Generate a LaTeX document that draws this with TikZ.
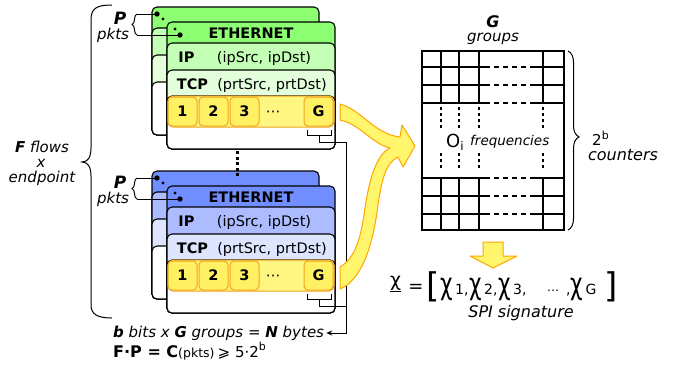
\documentclass[tikz,border=0pt]{standalone}
\usepackage{fontspec}
\setmainfont{DejaVu Sans}
\usetikzlibrary{decorations.pathreplacing,arrows.meta,calc}
\newcommand\myfs[1]{\fontsize{#1}{#1}\selectfont}
\newcommand\mysub[1]{\hspace{2.5pt}{\myfs{14}#1}}
\newcommand\mychi{\scalebox{0.72}[1]{\myfs{30}χ}}
\definecolor{gA}{RGB}{140,255,115}
\definecolor{gB}{RGB}{196,255,182}
\definecolor{gC}{RGB}{228,255,220}
\definecolor{bA}{RGB}{112,142,255}
\definecolor{bB}{RGB}{172,188,255}
\definecolor{bC}{RGB}{221,229,255}
\definecolor{yelC}{RGB}{255,240,100}
\definecolor{yelR}{RGB}{255,246,130}
\definecolor{orangeB}{RGB}{240,165,30}
\definecolor{arrF}{RGB}{255,246,110}
\definecolor{arrB}{RGB}{255,165,0}
\tikzset{
  cl/.style={draw=black, line width=1.1pt, rounded corners=5pt},
  cellst/.style={draw=orangeB, line width=1pt, fill=yelC, rounded corners=4pt,
    minimum width=29pt, minimum height=29pt, inner sep=0pt, font=\myfs{14.5}\bfseries},
  rowst/.style={draw=orangeB, line width=1pt, fill=yelR, rounded corners=5pt},
  hd/.style={font=\myfs{14.5}\bfseries, inner sep=0pt, anchor=base},
  tx/.style={font=\myfs{14.5}, inner sep=0pt, anchor=base},
  gl/.style={line width=1.3pt},
  gd/.style={line width=1.3pt, dash pattern=on 3pt off 3pt},
  gh/.style={line width=1.3pt, dash pattern=on 5pt off 4pt},
  arrst/.style={draw=arrB, fill=arrF, line width=1pt, line join=round},
  pics/pstack/.style n args={3}{code={
    % back card
    \draw[cl, fill=#1] (152,7) rectangle (319,135);
    \draw[cl, fill=#2] (152,28) rectangle (319,135);
    \draw[cl, fill=#3] (152,55) rectangle (319,135);
    \draw[cl, fill=white] (152,82) rectangle (319,135);
    % front card
    \draw[cl, fill=#1] (167,22) rectangle (335,149);
    \draw[cl, fill=#2] (167,43) rectangle (335,149);
    \draw[cl, fill=#3] (167,70) rectangle (335,149);
    \draw[cl, fill=white] (167,96) rectangle (335,149);
    \draw[rowst] (168,96) rectangle (334,127);
    \node[hd] (-eth) at (251,38) {ETHERNET};
    \node[hd] (-ip) at (186.5,62.5) {IP};
    \node[tx] (-ipf) at (264,62.5) {(ipSrc, ipDst)};
    \node[hd] (-tcp) at (192.5,89.5) {TCP};
    \node[tx] (-tcpf) at (272,89.5) {(prtSrc, prtDst)};
    \node[cellst] (-c1) at (182.5,111.5) {1};
    \node[cellst] (-c2) at (213.5,111.5) {2};
    \node[cellst] (-c3) at (244.5,111.5) {3};
    \node[font=\myfs{14.5}, inner sep=0pt, anchor=base] (-cd) at (273,116) {⋯};
    \node[cellst] (-cg) at (318.5,111.5) {G};
    % bracket under G
    \draw[line width=1pt] (307,130) -- (307,135) -- (331,135) -- (331,130);
    \coordinate (-gb) at (319,135);
    % dots
    \fill (157,14) circle (2.7);
    \fill (163,19) circle (1.7);
    \fill (175,29) circle (1.7);
    \fill (180,35) circle (2.7);
    \coordinate (-d1) at (157,14);
    \coordinate (-d2) at (180,35);
    \coordinate (-pb1) at (137,14);
    \coordinate (-pb2) at (137,35);
    \draw[line width=1pt] (-d1) -- (-pb1);
    \draw[line width=1pt] (-d2) -- (-pb2);
    \draw[line width=1pt, decorate, decoration={brace, amplitude=5pt}] (-pb2) -- (-pb1);
    \node[font=\myfs{17}\bfseries\itshape, inner sep=0pt, anchor=base] (-P) at (120,24) {P};
    \node[font=\myfs{15}\itshape, inner sep=0pt, anchor=base] (-pk) at (113,39.5) {pkts};
  }}
}
\begin{document}
\begin{tikzpicture}[x=1pt,y=-1pt]
\fill[white] (0,0) rectangle (685,367);
\useasboundingbox (0,0) rectangle (685,367);

% packet stacks
\pic (top) at (0,0) {pstack={gA}{gB}{gC}};
\pic (bot) at (0,164) {pstack={bA}{bB}{bC}};

% vertical dots between stacks
\coordinate (vd1) at (237,151);
\coordinate (vd2) at (237,177);
\draw[line width=3pt, dash pattern=on 3pt off 2.5pt] (vd1) -- (vd2);

% big left brace
\coordinate (fbT) at (112,5);
\coordinate (fbB) at (112,318);
\draw[line width=1pt] (fbT) .. controls (97,5) and (91,8) .. (91,20) -- (91,148)
  .. controls (91,157) and (88,162) .. (82,162)
  .. controls (88,162) and (91,167) .. (91,176) -- (91,305)
  .. controls (91,314) and (97,318) .. (fbB);
\node[font=\myfs{15}, inner sep=0pt, anchor=base] (ff) at (42,152) {{\bfseries\itshape F} \itshape flows};
\node[font=\myfs{15}\itshape, inner sep=0pt, anchor=base] (fx) at (41,167) {x};
\node[font=\myfs{15}\itshape, inner sep=0pt, anchor=base] (fe) at (42,182) {endpoint};

% bottom texts
\node[font=\myfs{15}\itshape, inner sep=0pt, anchor=west] (bits) at (113,333)
  {{\bfseries b} bits x {\bfseries G} groups = {\bfseries N} bytes};
\node[inner sep=0pt, anchor=base west] (fpc) at (113,357)
  {{\myfs{16}\bfseries F·P = C}{\myfs{12.5}(pkts)} {\myfs{15}⩾ 5·2\raisebox{7pt}{\myfs{11}b}}};

% connectors from G brackets
\coordinate (bend) at (346,333);
\draw[line width=1pt, -{Stealth[length=6pt,width=5pt]}] (top-gb) -- ++(0,7) -| (bend) -- ([xshift=2pt]bits.east);
\draw[line width=1pt] (bot-gb) -- ++(0,7) -| (bend);

% big curved arrow
\draw[arrst] (340,104) .. controls (362,110) and (374,134) .. (400,137) -- (402,125) -- (415,146) -- (403,167) -- (398,157)
  .. controls (386,163) and (382,178) .. (378,205)
  .. controls (373,245) and (362,280) .. (340,289) -- (340,267)
  .. controls (355,258) and (360,240) .. (364,215)
  .. controls (368,185) and (375,155) .. (390,148)
  .. controls (372,144) and (360,124) .. (340,120) -- cycle;

% grid
\draw[gl] (422,51) rectangle (564,230);
\foreach \y in {67,85,103,178,196,214} {
  \draw[gl] (422,\y) -- (490,\y);
  \draw[gl] (530,\y) -- (564,\y);
  \draw[gh] (494,\y) -- (527,\y);
}
\foreach \x in {441,459,479,543} {
  \draw[gl] (\x,51) -- (\x,103);
  \draw[gl] (\x,178) -- (\x,230);
  \draw[gd] (\x,107) -- (\x,129);
  \draw[gd] (\x,153) -- (\x,169);
}
\node[inner sep=0pt, anchor=base west] (oi) at (446,147) {\myfs{18}O\raisebox{-3.5pt}{\myfs{12}i}};
\node[font=\myfs{13.5}\itshape, inner sep=0pt, anchor=base west] (freq) at (470,145) {frequencies};
\node[font=\myfs{16}\bfseries\itshape, inner sep=0pt, anchor=base] (gG) at (493,27) {G};
\node[font=\myfs{15}\itshape, inner sep=0pt, anchor=base] (grp) at (493,41.5) {groups};

% right brace
\coordinate (rb1) at (568,51);
\coordinate (rb2) at (568,230);
\draw[line width=1pt, decorate, decoration={brace, amplitude=11pt, aspect=0.48}] (rb1) -- (rb2);
\node[inner sep=0pt, anchor=base west] (two) at (592,145) {\myfs{15}2\raisebox{6pt}{\myfs{11}b}};
\node[font=\myfs{16}\itshape, inner sep=0pt, anchor=base] (cnt) at (623,160) {counters};

% down arrow
\draw[arrst] (483,242) -- (503,242) -- (503,256) -- (517,256) -- (493,268) -- (470,256) -- (483,256) -- cycle;

% signature
\node[inner sep=0pt, anchor=base west] (chib) at (390,286) {\underline{\myfs{19}χ}};
\node[inner sep=0pt] (eq) at (416,288) {\myfs{18}=};
\node[inner sep=0pt] (lbr) at (433,287) {\myfs{34}[};
\node[inner sep=0pt, anchor=base west] (x1) at (440,294) {\mychi\mysub{1}\myfs{14},};
\node[inner sep=0pt, anchor=base west] (x2) at (469,294) {\mychi\mysub{2}\myfs{14},};
\node[inner sep=0pt, anchor=base west] (x3) at (498,294) {\mychi\mysub{3}\myfs{14},};
\node[inner sep=0pt, anchor=base] (xd) at (553,294) {\myfs{12}⋯};
\node[inner sep=0pt, anchor=base west] (xg) at (566,294) {\myfs{14},\mychi\mysub{G}};
\node[inner sep=0pt] (rbr) at (611,287) {\myfs{34}]};
\node[font=\myfs{16}\itshape, inner sep=0pt, anchor=base] (spi) at (521,317) {SPI signature};
\end{tikzpicture}
\end{document}
